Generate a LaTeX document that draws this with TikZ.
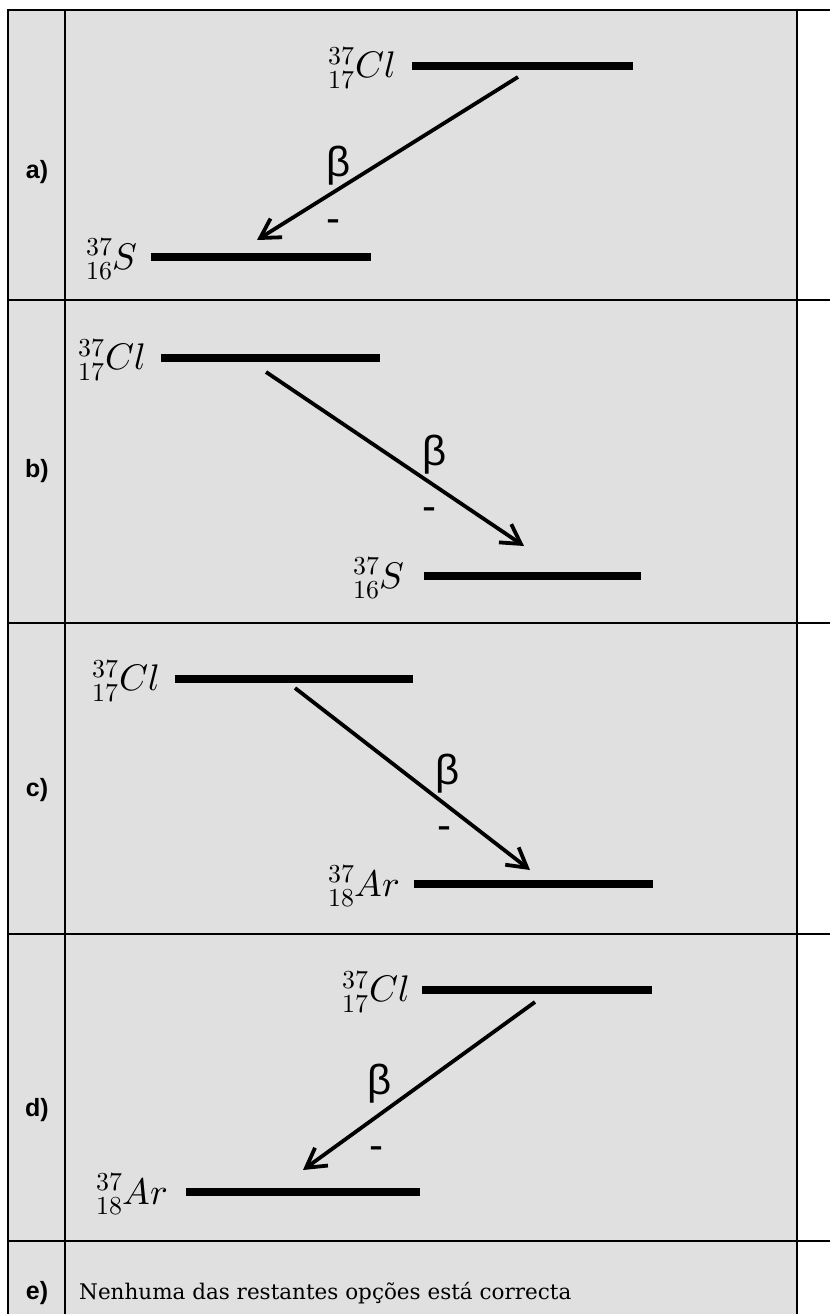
\documentclass[tikz,border=0pt]{standalone}
\usepackage{fontspec}
\usepackage{unicode-math}
\setmathfont{Latin Modern Math}
\newfontfamily\lblfont{Liberation Sans}
\newfontfamily\optfont{DejaVu Serif}
\usetikzlibrary{arrows.meta}
\definecolor{cellgray}{RGB}{224,224,224}
\begin{document}
\begin{tikzpicture}[x=1pt,y=-1pt,
  gridline/.style={line width=2.5pt},
  levelline/.style={line width=7.5pt},
  decay/.style={line width=3.8pt, -{Straight Barb[length=19pt,width=22pt]}},
  nuc/.style={anchor=east, inner sep=0pt, font=\fontsize{37}{42}\selectfont},
  betalbl/.style={inner sep=0pt, font=\lblfont\fontsize{42}{46}\selectfont},
  optlbl/.style={inner sep=0pt, font=\lblfont\bfseries\fontsize{25}{28}\selectfont},
]
\useasboundingbox (0,0) rectangle (830,1314);
\fill[cellgray] (8,10) rectangle (797,1314);
% grid
\draw[gridline] (7,10) -- (830,10);
\draw[gridline] (7,300) -- (830,300);
\draw[gridline] (7,623) -- (830,623);
\draw[gridline] (7,934) -- (830,934);
\draw[gridline] (7,1241) -- (830,1241);
\draw[gridline] (8,10) -- (8,1314);
\draw[gridline] (65,10) -- (65,1314);
\draw[gridline] (797,10) -- (797,1314);

% option labels
\node[optlbl] (opta) at (37,172) {a)};
\node[optlbl] (optb) at (37,471) {b)};
\node[optlbl] (optc) at (37,790) {c)};
\node[optlbl] (optd) at (37,1110) {d)};
\node[optlbl] (opte) at (37,1293) {e)};

% ---- a)
\draw[levelline] (412,66) -- (633,66);
\node[nuc] (aCl) at (396,68) {${}^{37}_{17}Cl$};
\draw[levelline] (151,257) -- (371,257);
\node[nuc] (aS) at (138,259) {${}^{37}_{16}S$};
\coordinate (aStart) at (518,77);
\coordinate (aEnd) at (257,240);
\draw[decay] (aStart) -- (aEnd);
\node[betalbl] (aBeta) at (339,166) {β};
\node[betalbl] (aMinus) at (333,226) {-};

% ---- b)
\draw[levelline] (161,358) -- (380,358);
\node[nuc] (bCl) at (146,360) {${}^{37}_{17}Cl$};
\draw[levelline] (424,576) -- (641,576);
\node[nuc] (bS) at (405,578) {${}^{37}_{16}S$};
\coordinate (bStart) at (266,372);
\coordinate (bEnd) at (524,546);
\draw[decay] (bStart) -- (bEnd);
\node[betalbl] (bBeta) at (435,455) {β};
\node[betalbl] (bMinus) at (429,514) {-};

% ---- c)
\draw[levelline] (175,679) -- (413,679);
\node[nuc] (cCl) at (160,681) {${}^{37}_{17}Cl$};
\draw[levelline] (414,884) -- (653,884);
\node[nuc] (cAr) at (400,886) {${}^{37}_{18}Ar$};
\coordinate (cStart) at (295,688);
\coordinate (cEnd) at (530,870);
\draw[decay] (cStart) -- (cEnd);
\node[betalbl] (cBeta) at (448,774) {β};
\node[betalbl] (cMinus) at (444,833) {-};

% ---- d)
\draw[levelline] (422,990) -- (652,990);
\node[nuc] (dCl) at (410,992) {${}^{37}_{17}Cl$};
\draw[levelline] (186,1192) -- (420,1192);
\node[nuc] (dAr) at (168,1194) {${}^{37}_{18}Ar$};
\coordinate (dStart) at (535,1002);
\coordinate (dEnd) at (303,1170);
\draw[decay] (dStart) -- (dEnd);
\node[betalbl] (dBeta) at (380,1084) {β};
\node[betalbl] (dMinus) at (376,1153) {-};

% ---- e)
\node[anchor=west, inner sep=0pt, font=\optfont\fontsize{21.5}{26}\selectfont] (eText) at (79,1293) {Nenhuma das restantes opções está correcta};
\end{tikzpicture}
\end{document}
